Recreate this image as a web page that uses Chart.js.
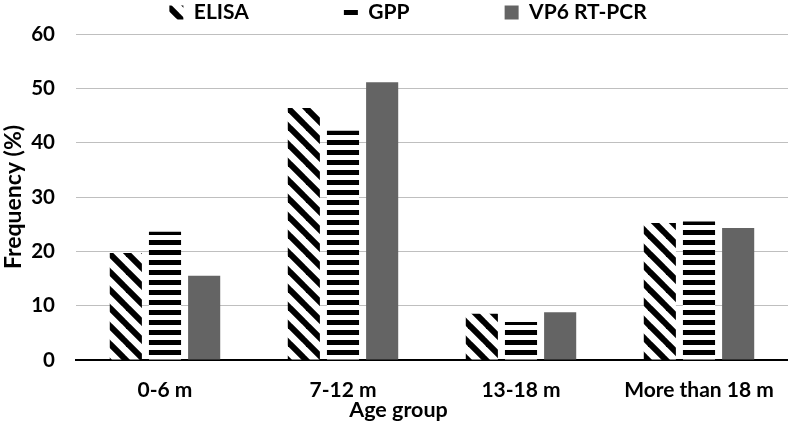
<!DOCTYPE html>
<html>
<head>
<meta charset="utf-8">
<script src="https://cdn.jsdelivr.net/npm/chart.js@4.4.1/dist/chart.umd.min.js"></script>
<style>
    html, body { margin: 0; padding: 0; background: #fff; }
    #wrap { width: 788px; height: 422px; position: relative; }
</style>
</head>
<body>
<div id="wrap"><canvas id="ageChart"></canvas></div>
<script>
const categories = ['0-6 m', '7-12 m', '13-18 m', 'More than 18 m'];
const elisa = [19.7, 46.4, 8.5, 25.2];
const gpp = [23.6, 42.2, 7.0, 25.5];
const vp6 = [15.5, 51.1, 8.8, 24.3];

const FONT = 'Lato, "Liberation Sans", sans-serif';

// black/white hatch fills like the original
function diagonalPattern() {
    const s = 18;
    const c = document.createElement('canvas');
    c.width = s; c.height = s;
    const ctx = c.getContext('2d');
    ctx.fillStyle = '#fff';
    ctx.fillRect(0, 0, s, s);
    ctx.strokeStyle = '#000';
    ctx.lineWidth = 6;
    for (let x = -s; x <= s; x += s) {
        ctx.beginPath();
        ctx.moveTo(x - 2, -2);
        ctx.lineTo(x + s + 2, s + 2);
        ctx.stroke();
    }
    return ctx.createPattern(c, 'repeat');
}

function horizontalPattern() {
    const c = document.createElement('canvas');
    c.width = 10; c.height = 10;
    const ctx = c.getContext('2d');
    ctx.fillStyle = '#fff';
    ctx.fillRect(0, 0, 10, 10);
    ctx.fillStyle = '#000';
    ctx.fillRect(0, 0, 10, 5);
    return ctx.createPattern(c, 'repeat');
}

// the legend items sit far apart, but big padding would also push them down
const legendShift = {
    id: 'legendShift',
    afterLayout(chart) {
        const lg = chart.legend;
        lg.top = 2 - lg.options.labels.padding;
        lg.left += 14;
        lg.right += 14;
    }
};

const xTitle = {
    id: 'xTitle',
    afterDraw(chart) {
        const { ctx, chartArea } = chart;
        ctx.save();
        ctx.font = 'bold 21.5px ' + FONT;
        ctx.fillStyle = '#000';
        ctx.textAlign = 'center';
        ctx.textBaseline = 'middle';
        ctx.fillText('Age group', chartArea.left + (chartArea.right - chartArea.left) * 0.453, 410);
        ctx.restore();
    }
};

new Chart(document.getElementById('ageChart'), {
    type: 'bar',
    data: {
        labels: categories,
        datasets: [
            { label: 'ELISA', data: elisa, backgroundColor: diagonalPattern() },
            { label: 'GPP', data: gpp, backgroundColor: horizontalPattern() },
            { label: 'VP6 RT-PCR', data: vp6, backgroundColor: '#646464' }
        ]
    },
    options: {
        responsive: true,
        maintainAspectRatio: false,
        animation: false,
        categoryPercentage: 0.66,
        barPercentage: 0.82,
        layout: { padding: 0 },
        plugins: {
            legend: {
                position: 'top',
                maxHeight: 34,
                labels: {
                    color: '#000',
                    font: { family: FONT, size: 21, weight: 'bold' },
                    boxWidth: 14,
                    boxHeight: 14,
                    padding: 95
                }
            },
            tooltip: { enabled: false }
        },
        scales: {
            x: {
                grid: { display: false },
                border: { color: '#000', width: 2 },
                afterFit: s => { s.height = 62; },
                ticks: {
                    color: '#000',
                    padding: 10,
                    font: { family: FONT, size: 21, weight: 'bold' }
                }
            },
            y: {
                min: 0,
                max: 60,
                afterFit: s => { s.width = 76; },
                ticks: {
                    stepSize: 10,
                    color: '#000',
                    padding: 21,
                    font: { family: FONT, size: 20.5, weight: 'bold' }
                },
                grid: { color: '#bfbfbf', drawTicks: false },
                border: { display: false },
                title: {
                    display: true,
                    text: 'Frequency (%)',
                    color: '#000',
                    padding: 0,
                    font: { family: FONT, size: 23, weight: 'bold' }
                }
            }
        }
    },
    plugins: [legendShift, xTitle]
});
</script>
</body>
</html>
